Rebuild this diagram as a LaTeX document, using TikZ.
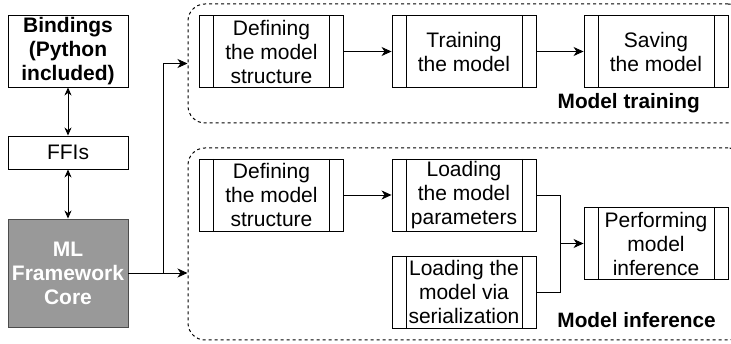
\documentclass[tikz,border=0pt]{standalone}
\usepackage{fontspec}
\setmainfont{Liberation Sans}
\usetikzlibrary{arrows.meta}
\begin{document}
\begin{tikzpicture}[x=1pt,y=-1pt,
  txt/.style={font=\fontsize{21}{24}\selectfont, align=center, inner sep=0pt},
  procbox/.style={txt, draw, line width=0.9pt, minimum width=144pt, minimum height=72pt,
    path picture={
      \draw[line width=0.9pt] ([xshift=14pt]path picture bounding box.north west) -- ([xshift=14pt]path picture bounding box.south west);
      \draw[line width=0.9pt] ([xshift=-14pt]path picture bounding box.north east) -- ([xshift=-14pt]path picture bounding box.south east);
    }},
  leftbox/.style={txt, draw, line width=0.9pt, minimum width=120pt},
  container/.style={draw, dash pattern=on 3pt off 3pt, line width=1pt, rounded corners=17pt, inner sep=0pt},
  lbl/.style={font=\bfseries\fontsize{20.8}{24}\selectfont, inner sep=0pt, anchor=east},
  conn/.style={line width=0.9pt},
  arr/.style={conn, -{Stealth[length=10pt,width=9pt,inset=3pt]}},
  darr/.style={conn, {Stealth[length=8pt,width=7pt,inset=2.5pt]}-{Stealth[length=8pt,width=7pt,inset=2.5pt]}}
]
\useasboundingbox (0,0) rectangle (731,344);

% containers
\node[container, minimum width=557pt, minimum height=119pt] (ctop) at (466.5,63.5) {};
\node[container, minimum width=557pt, minimum height=192pt] (cbot) at (466.5,244) {};

% left column
\node[leftbox, font=\bfseries\fontsize{21}{24}\selectfont, minimum height=72pt] (bind) at (68,51) {Bindings\\(Python\\included)};
\node[leftbox, minimum height=33pt] (ffi) at (68,152.5) {FFIs};
\node[leftbox, font=\bfseries\fontsize{21}{24}\selectfont, minimum height=108pt, fill=black!40, draw=black!70, text=white] (core) at (68,273) {ML\\Framework\\Core};

% training
\node[procbox] (def1) at (271.5,51.5) {Defining\\the model\\structure};
\node[procbox] (train) at (464,51.5) {Training\\the model};
\node[procbox] (save) at (656,51.5) {Saving\\the model};
\node[lbl] (ltrain) at (700,103) {Model training};

% inference
\node[procbox] (def2) at (271.5,195) {Defining\\the model\\structure};
\node[procbox] (params) at (464,195) {Loading\\the model\\parameters};
\node[procbox] (serial) at (464,292) {Loading the\\model via\\serialization};
\node[procbox] (perf) at (656,243.5) {Performing\\model\\inference};
\node[lbl] (linf) at (716,320) {Model inference};

% connectors
\draw[darr] (bind) -- (ffi);
\draw[darr] (ffi) -- (core);
\path (core.east) ++(35,0) coordinate (j);
\draw[arr] (core.east) -- (core.east -| cbot.west);
\draw[arr] (j) |- (ctop.west);
\draw[arr] (def1) -- (train);
\draw[arr] (train) -- (save);
\draw[arr] (def2) -- (params);
\path (params.east) ++(24,0) coordinate (pm);
\draw[conn] (params.east) -- (pm) |- (serial.east);
\draw[arr] (pm |- perf.west) -- (perf.west);
\end{tikzpicture}
\end{document}
